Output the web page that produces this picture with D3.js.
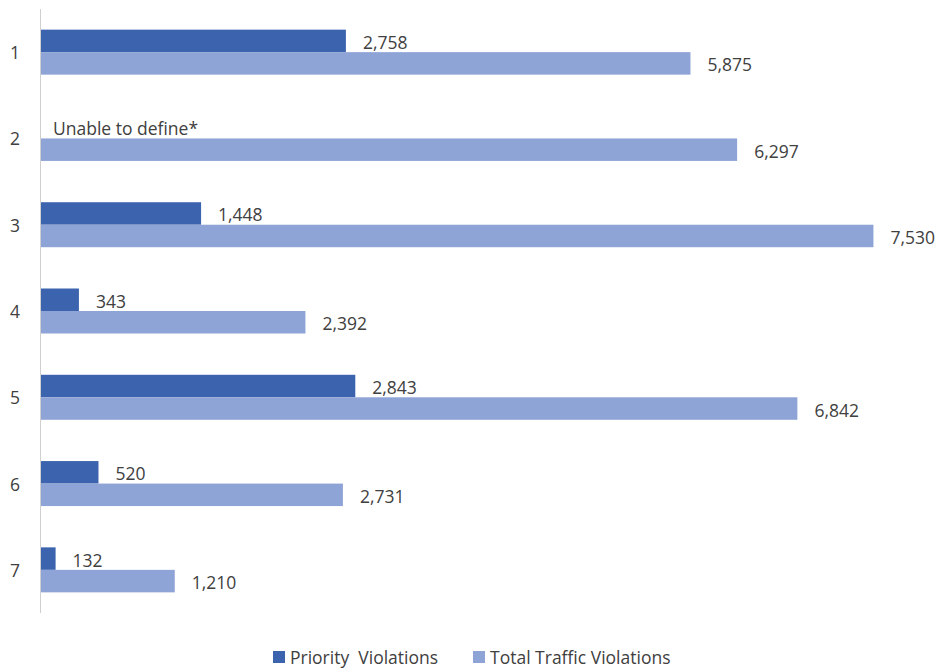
<!DOCTYPE html>
<html>
<head>
<meta charset="utf-8">
<script src="https://cdn.jsdelivr.net/npm/d3@7"></script>
<style>
  html, body { margin: 0; padding: 0; background: #fff; }
  svg text { font-family: "Open Sans", "Noto Sans", sans-serif; }
</style>
</head>
<body>
<svg id="chart" width="940" height="669"></svg>
<script>
// Districts along the vertical axis
const categories = ["1", "2", "3", "4", "5", "6", "7"];
// Priority violations per district (district 2 could not be defined)
const priorityViolations = [2758, null, 1448, 343, 2843, 520, 132];
// Total traffic violations per district
const totalViolations = [5875, 6297, 7530, 2392, 6842, 2731, 1210];
const seriesNames = ["Priority  Violations", "Total Traffic Violations"];
const seriesColors = ["#3C63AE", "#8FA4D6"];
const missingLabel = "Unable to define*";

const svg = d3.select("#chart");
const margin = { left: 41, top: 9, bottom: 56, right: 15 };
const W = 940, H = 669;

const x = d3.scaleLinear().domain([0, 8000]).range([margin.left, margin.left + 8000 * 0.11055]);
const y = d3.scaleBand().domain(categories).range([margin.top, H - margin.bottom]);
const groupH = 45;
const ySub = d3.scaleBand().domain([0, 1])
  .range([y.bandwidth() / 2 - groupH / 2, y.bandwidth() / 2 + groupH / 2]);

const rows = categories.map((c, i) => ({ cat: c, values: [priorityViolations[i], totalViolations[i]] }));
const fmt = d3.format(",");
const textColor = "#404040";
const fontSize = 17.5;

// vertical axis line
svg.append("line")
  .attr("x1", margin.left - 0.5).attr("x2", margin.left - 0.5)
  .attr("y1", margin.top).attr("y2", H - margin.bottom)
  .attr("stroke", "#d0d0d0").attr("stroke-width", 1);

// category labels
svg.append("g").selectAll("text").data(categories).join("text")
  .attr("x", 15).attr("y", d => y(d) + y.bandwidth() / 2)
  .attr("text-anchor", "middle").attr("dominant-baseline", "central")
  .attr("font-size", fontSize).attr("fill", textColor)
  .text(d => d);

const g = svg.append("g").selectAll("g").data(rows).join("g")
  .attr("transform", d => `translate(0,${y(d.cat)})`);

g.each(function (row) {
  const sel = d3.select(this);
  row.values.forEach((v, s) => {
    const top = ySub(s);
    const h = ySub.bandwidth();
    if (v != null) {
      sel.append("rect")
        .attr("x", x(0)).attr("y", top)
        .attr("width", x(v) - x(0)).attr("height", h)
        .attr("fill", seriesColors[s]);
    }
    sel.append("text")
      .attr("x", (v != null ? x(v) : x(0)) + (v != null ? 17 : 12))
      .attr("y", top + h / 2 + 1)
      .attr("dominant-baseline", "central")
      .attr("font-size", fontSize).attr("fill", textColor)
      .text(v != null ? fmt(v) : missingLabel);
  });
});

// legend
const legend = svg.append("g").attr("transform", "translate(273,657)");
const legendX = [0, 200];
seriesNames.forEach((name, i) => {
  legend.append("rect").attr("x", legendX[i]).attr("y", -6).attr("width", 12).attr("height", 12)
    .attr("fill", seriesColors[i]);
  legend.append("text").attr("x", legendX[i] + 17).attr("y", 0)
    .attr("dominant-baseline", "central").attr("font-size", fontSize).attr("fill", textColor)
    .attr("xml:space", "preserve")
    .text(name);
});
</script>
</body>
</html>
